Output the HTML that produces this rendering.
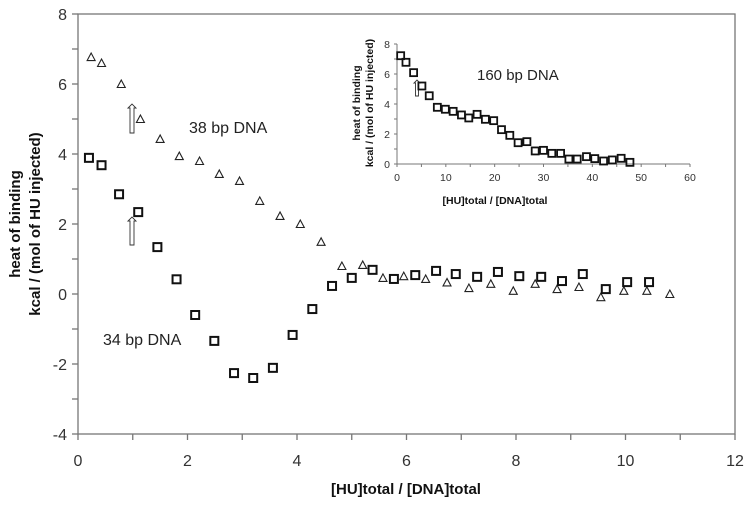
<!DOCTYPE html>
<html><head><meta charset="utf-8"><style>
body{margin:0;background:#fff}
svg text{font-family:"Liberation Sans",Arial,sans-serif}
</style></head><body>
<svg id="c" width="750" height="504" xmlns="http://www.w3.org/2000/svg"></svg>
<script>
const triX=[0.24,0.43,0.79,1.14,1.5,1.85,2.22,2.58,2.95,3.32,3.69,4.06,4.44,4.82,5.2,5.57,5.95,6.35,6.74,7.14,7.54,7.95,8.35,8.75,9.15,9.55,9.97,10.39,10.81];
const triY=[6.77,6.6,6.0,5.0,4.43,3.94,3.8,3.43,3.23,2.66,2.23,2.0,1.49,0.8,0.83,0.46,0.51,0.43,0.33,0.17,0.29,0.09,0.29,0.14,0.2,-0.09,0.09,0.09,0.0];
const sqX=[0.2,0.43,0.75,1.1,1.45,1.8,2.14,2.49,2.85,3.2,3.56,3.92,4.28,4.64,5.0,5.38,5.77,6.16,6.54,6.9,7.29,7.67,8.06,8.46,8.84,9.22,9.64,10.03,10.43];
const sqY=[3.89,3.68,2.85,2.34,1.34,0.42,-0.6,-1.34,-2.26,-2.4,-2.11,-1.17,-0.43,0.23,0.46,0.69,0.43,0.54,0.66,0.57,0.49,0.63,0.51,0.49,0.37,0.57,0.14,0.34,0.34];
const inX=[0.75,1.84,3.4,5.1,6.6,8.26,9.9,11.5,13.2,14.7,16.4,18.1,19.8,21.4,23.1,24.8,26.6,28.3,30.0,31.7,33.5,35.2,36.9,38.8,40.5,42.3,44.1,45.9,47.7];
const inY=[7.22,6.78,6.09,5.2,4.55,3.78,3.65,3.51,3.27,3.07,3.31,2.98,2.89,2.29,1.91,1.42,1.49,0.87,0.91,0.71,0.71,0.33,0.33,0.49,0.36,0.2,0.27,0.38,0.11];
const xTicks=[0,2,4,6,8,10,12];
const yTicks=[-4,-2,0,2,4,6,8];
const inXTicks=[0,10,20,30,40,50,60];
const inYTicks=[0,2,4,6,8];

const svg=document.getElementById('c');
const NS='http://www.w3.org/2000/svg';
function mk(tag,attrs,parent){const e=document.createElementNS(NS,tag);for(const k in attrs)e.setAttribute(k,attrs[k]);(parent||svg).appendChild(e);return e;}
const X=v=>78+v*54.75, Y=v=>294-v*35;
const IX=v=>397+v*293/60, IY=v=>164-v*15;
const axisCol='#777';

// main frame
let fr=mk('rect',{x:78,y:14,width:657,height:420,fill:'none',stroke:axisCol,'stroke-width':1.3});


for(let v=0;v<=12;v++){let t=mk('line',{x1:X(v),x2:X(v),y1:434,y2:440,stroke:axisCol,'stroke-width':1.3});

}
for(let v=-4;v<=8;v++){let t=mk('line',{x1:72,x2:78,y1:Y(v),y2:Y(v),stroke:axisCol,'stroke-width':1.3});

}
xTicks.forEach(v=>{let t=mk('text',{x:X(v),y:466,'text-anchor':'middle','font-size':16,fill:'#333'});t.textContent=v;

});
yTicks.forEach(v=>{let t=mk('text',{x:67,y:Y(v)+6,'text-anchor':'end','font-size':16,fill:'#333'});t.textContent=v;

});
let xt=mk('text',{x:406,y:494,'text-anchor':'middle','font-size':15,'font-weight':'bold',fill:'#111'});xt.textContent='[HU]total / [DNA]total';


let yt=mk('text',{transform:'translate(20,224) rotate(-90)','text-anchor':'middle','font-size':15,'font-weight':'bold',fill:'#111'});yt.textContent='heat of binding';


let yt2=mk('text',{transform:'translate(40,224) rotate(-90)','text-anchor':'middle','font-size':15,'font-weight':'bold',fill:'#111'});yt2.textContent='kcal / (mol of HU injected)';



triX.forEach((v,i)=>{const cx=X(v),cy=Y(triY[i]);
let p=mk('polygon',{points:`${cx},${cy-4} ${cx-4},${cy+3.5} ${cx+4},${cy+3.5}`,fill:'none',stroke:'#222','stroke-width':1.1});

});
sqX.forEach((v,i)=>{
let r=mk('rect',{x:X(v)-4,y:Y(sqY[i])-4,width:8,height:8,fill:'none',stroke:'#111','stroke-width':2});

});

function arrow(x,y1,y2,w,name){let p=mk('path',{d:`M${x-w/2},${y2} L${x-w/2},${y1+w} L${x-w},${y1+w} L${x},${y1} L${x+w},${y1+w} L${x+w/2},${y1+w} L${x+w/2},${y2} Z`,fill:'#fff',stroke:'#333','stroke-width':0.9});

}
arrow(132,104,133,4,'arrow-38bp');
arrow(132,217,245,4,'arrow-34bp');
arrow(417,80,96,3,'arrow-160bp');

let l1=mk('text',{x:189,y:133,'font-size':16,fill:'#222'});l1.textContent='38 bp DNA';


let l2=mk('text',{x:103,y:345,'font-size':16,fill:'#222'});l2.textContent='34 bp DNA';



// inset
let ia=mk('path',{d:`M397,44 L397,164 L690,164`,fill:'none',stroke:axisCol,'stroke-width':1});


for(let v=0;v<=60;v+=5){let t=mk('line',{x1:IX(v),x2:IX(v),y1:164,y2:167,stroke:axisCol});

}
for(let v=0;v<=8;v++){let t=mk('line',{x1:394,x2:397,y1:IY(v),y2:IY(v),stroke:axisCol});

}
inXTicks.forEach(v=>{let t=mk('text',{x:IX(v),y:181,'text-anchor':'middle','font-size':10.5,fill:'#333'});t.textContent=v;

});
inYTicks.forEach(v=>{let t=mk('text',{x:390,y:IY(v)+4,'text-anchor':'end','font-size':10.5,fill:'#333'});t.textContent=v;

});
let ixt=mk('text',{x:495,y:204,'text-anchor':'middle','font-size':10.5,'font-weight':'bold',fill:'#111'});ixt.textContent='[HU]total / [DNA]total';


let iyt=mk('text',{transform:'translate(360,103) rotate(-90)','text-anchor':'middle','font-size':10.5,'font-weight':'bold',fill:'#111'});iyt.textContent='heat of binding';


let iyt2=mk('text',{transform:'translate(373,103) rotate(-90)','text-anchor':'middle','font-size':10.5,'font-weight':'bold',fill:'#111'});iyt2.textContent='kcal / (mol of HU injected)';


inX.forEach((v,i)=>{
let r=mk('rect',{x:IX(v)-3.5,y:IY(inY[i])-3.5,width:7,height:7,fill:'none',stroke:'#111','stroke-width':1.8});

});
let l3=mk('text',{x:477,y:80,'font-size':15,fill:'#222'});l3.textContent='160 bp DNA';


</script>
</body></html>
